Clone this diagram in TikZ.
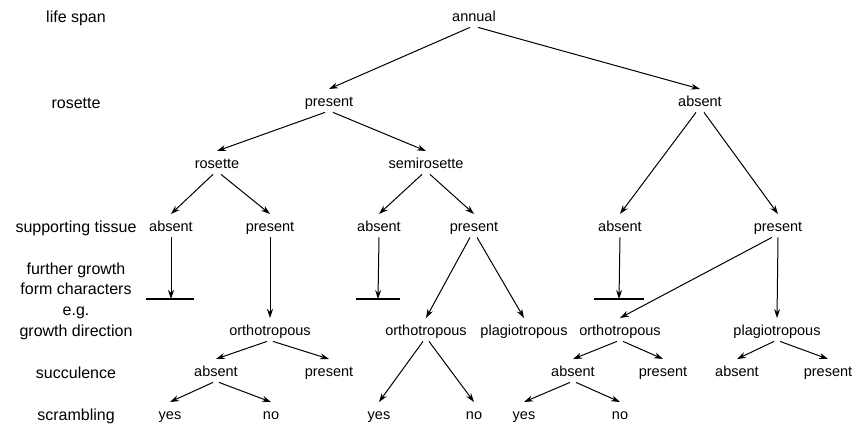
\documentclass[tikz,border=0pt]{standalone}
\usepackage{fontspec}
\setmainfont{Liberation Sans}
\usetikzlibrary{arrows.meta}

\begin{document}
\begin{tikzpicture}[x=1pt, y=-1pt,
    lbl/.style={font=\fontsize{16}{20.7}\selectfont, align=center},
    st/.style={font=\fontsize{14.5}{17}\selectfont, inner sep=2pt,
      text height=15.5pt, text depth=3.5pt, anchor=base, yshift=-3.7pt},
    arr/.style={line width=1pt, -{Stealth[length=9pt, width=6pt]}},
    bar/.style={line width=1.2pt}]
    \useasboundingbox (0, 0) rectangle (860, 427);
    % row labels
    \node[lbl] (lspan) at (76, 18) {life span};
    \node[lbl] (lros) at (76, 103) {rosette};
    \node[lbl] (ltis) at (76, 228) {supporting tissue};
    \node[lbl] (lfur) at (76, 301) {further growth\\form characters\\e.g.\\growth direction};
    \node[lbl] (lsuc) at (76, 373) {succulence};
    \node[lbl] (lscr) at (76, 416) {scrambling};
    % tree
    \node[st] (ann) at (474, 18) {annual};
    \node[st] (pres) at (329, 103) {present};
    \node[st] (abs) at (700, 103) {absent};
    \node[st] (ros) at (217, 165) {rosette};
    \node[st] (semi) at (426, 165) {semirosette};
    \node[st] (sa1) at (171, 228) {absent};
    \node[st] (sp1) at (270, 228) {present};
    \node[st] (sa2) at (379, 228) {absent};
    \node[st] (sp2) at (474, 228) {present};
    \node[st] (sa3) at (620, 228) {absent};
    \node[st] (sp3) at (778, 228) {present};
    \coordinate (b1) at (171, 299);
    \coordinate (b2) at (378, 299);
    \coordinate (b3) at (619, 299);
    \node[st] (or1) at (270, 332) {orthotropous};
    \node[st] (or2) at (426, 332) {orthotropous};
    \node[st] (pl2) at (524, 332) {plagiotropous};
    \node[st] (or3) at (620, 332) {orthotropous};
    \node[st] (pl3) at (777, 332) {plagiotropous};
    \node[st] (su1a) at (216, 373) {absent};
    \node[st] (su1p) at (329, 373) {present};
    \node[st] (su3a) at (573, 373) {absent};
    \node[st] (su3p) at (663, 373) {present};
    \node[st] (su4a) at (737, 373) {absent};
    \node[st] (su4p) at (828, 373) {present};
    \node[st] (sc1y) at (170, 416) {yes};
    \node[st] (sc1n) at (271, 416) {no};
    \node[st] (sc2y) at (379, 416) {yes};
    \node[st] (sc2n) at (474, 416) {no};
    \node[st] (sc3y) at (524, 416) {yes};
    \node[st] (sc3n) at (620, 416) {no};
    % connectors
    \draw[arr] ([xshift=-4]ann.south) -- (pres.north);
    \draw[arr] ([xshift=4]ann.south) -- (abs.north);
    \draw[arr] ([xshift=-4]pres.south) -- (ros.north);
    \draw[arr] ([xshift=4]pres.south) -- (semi.north);
    \draw[arr] ([xshift=-4]abs.south) -- (sa3.north);
    \draw[arr] ([xshift=4]abs.south) -- (sp3.north);
    \draw[arr] ([xshift=-4]ros.south) -- (sa1.north);
    \draw[arr] ([xshift=4]ros.south) -- (sp1.north);
    \draw[arr] ([xshift=-4]semi.south) -- (sa2.north);
    \draw[arr] ([xshift=4]semi.south) -- (sp2.north);
    \draw[arr] (sa1.south) -- (b1);
    \draw[arr] (sa2.south) -- (b2);
    \draw[arr] (sa3.south) -- (b3);
    \draw[bar] ([xshift=-25]b1) -- ([xshift=23]b1);
    \draw[bar] ([xshift=-22]b2) -- ([xshift=22]b2);
    \draw[bar] ([xshift=-25]b3) -- ([xshift=25]b3);
    \draw[arr] (sp1.south) -- (or1.north);
    \draw[arr] ([xshift=-4]sp2.south) -- (or2.north);
    \draw[arr] ([xshift=3]sp2.south) -- (pl2.north);
    \draw[arr] ([xshift=-6]sp3.south) -- (or3.north);
    \draw[arr] (sp3.south) -- (pl3.north);
    \draw[arr] ([xshift=-3]or1.south) -- (su1a.north);
    \draw[arr] ([xshift=3]or1.south) -- (su1p.north);
    \draw[arr] ([xshift=-3]or2.south) -- (sc2y.north);
    \draw[arr] ([xshift=3]or2.south) -- (sc2n.north);
    \draw[arr] ([xshift=-3]or3.south) -- (su3a.north);
    \draw[arr] ([xshift=3]or3.south) -- (su3p.north);
    \draw[arr] ([xshift=-3]pl3.south) -- (su4a.north);
    \draw[arr] ([xshift=3]pl3.south) -- (su4p.north);
    \draw[arr] ([xshift=-3]su1a.south) -- (sc1y.north);
    \draw[arr] ([xshift=3]su1a.south) -- (sc1n.north);
    \draw[arr] ([xshift=-3]su3a.south) -- (sc3y.north);
    \draw[arr] ([xshift=3]su3a.south) -- (sc3n.north);
\end{tikzpicture}
\end{document}
